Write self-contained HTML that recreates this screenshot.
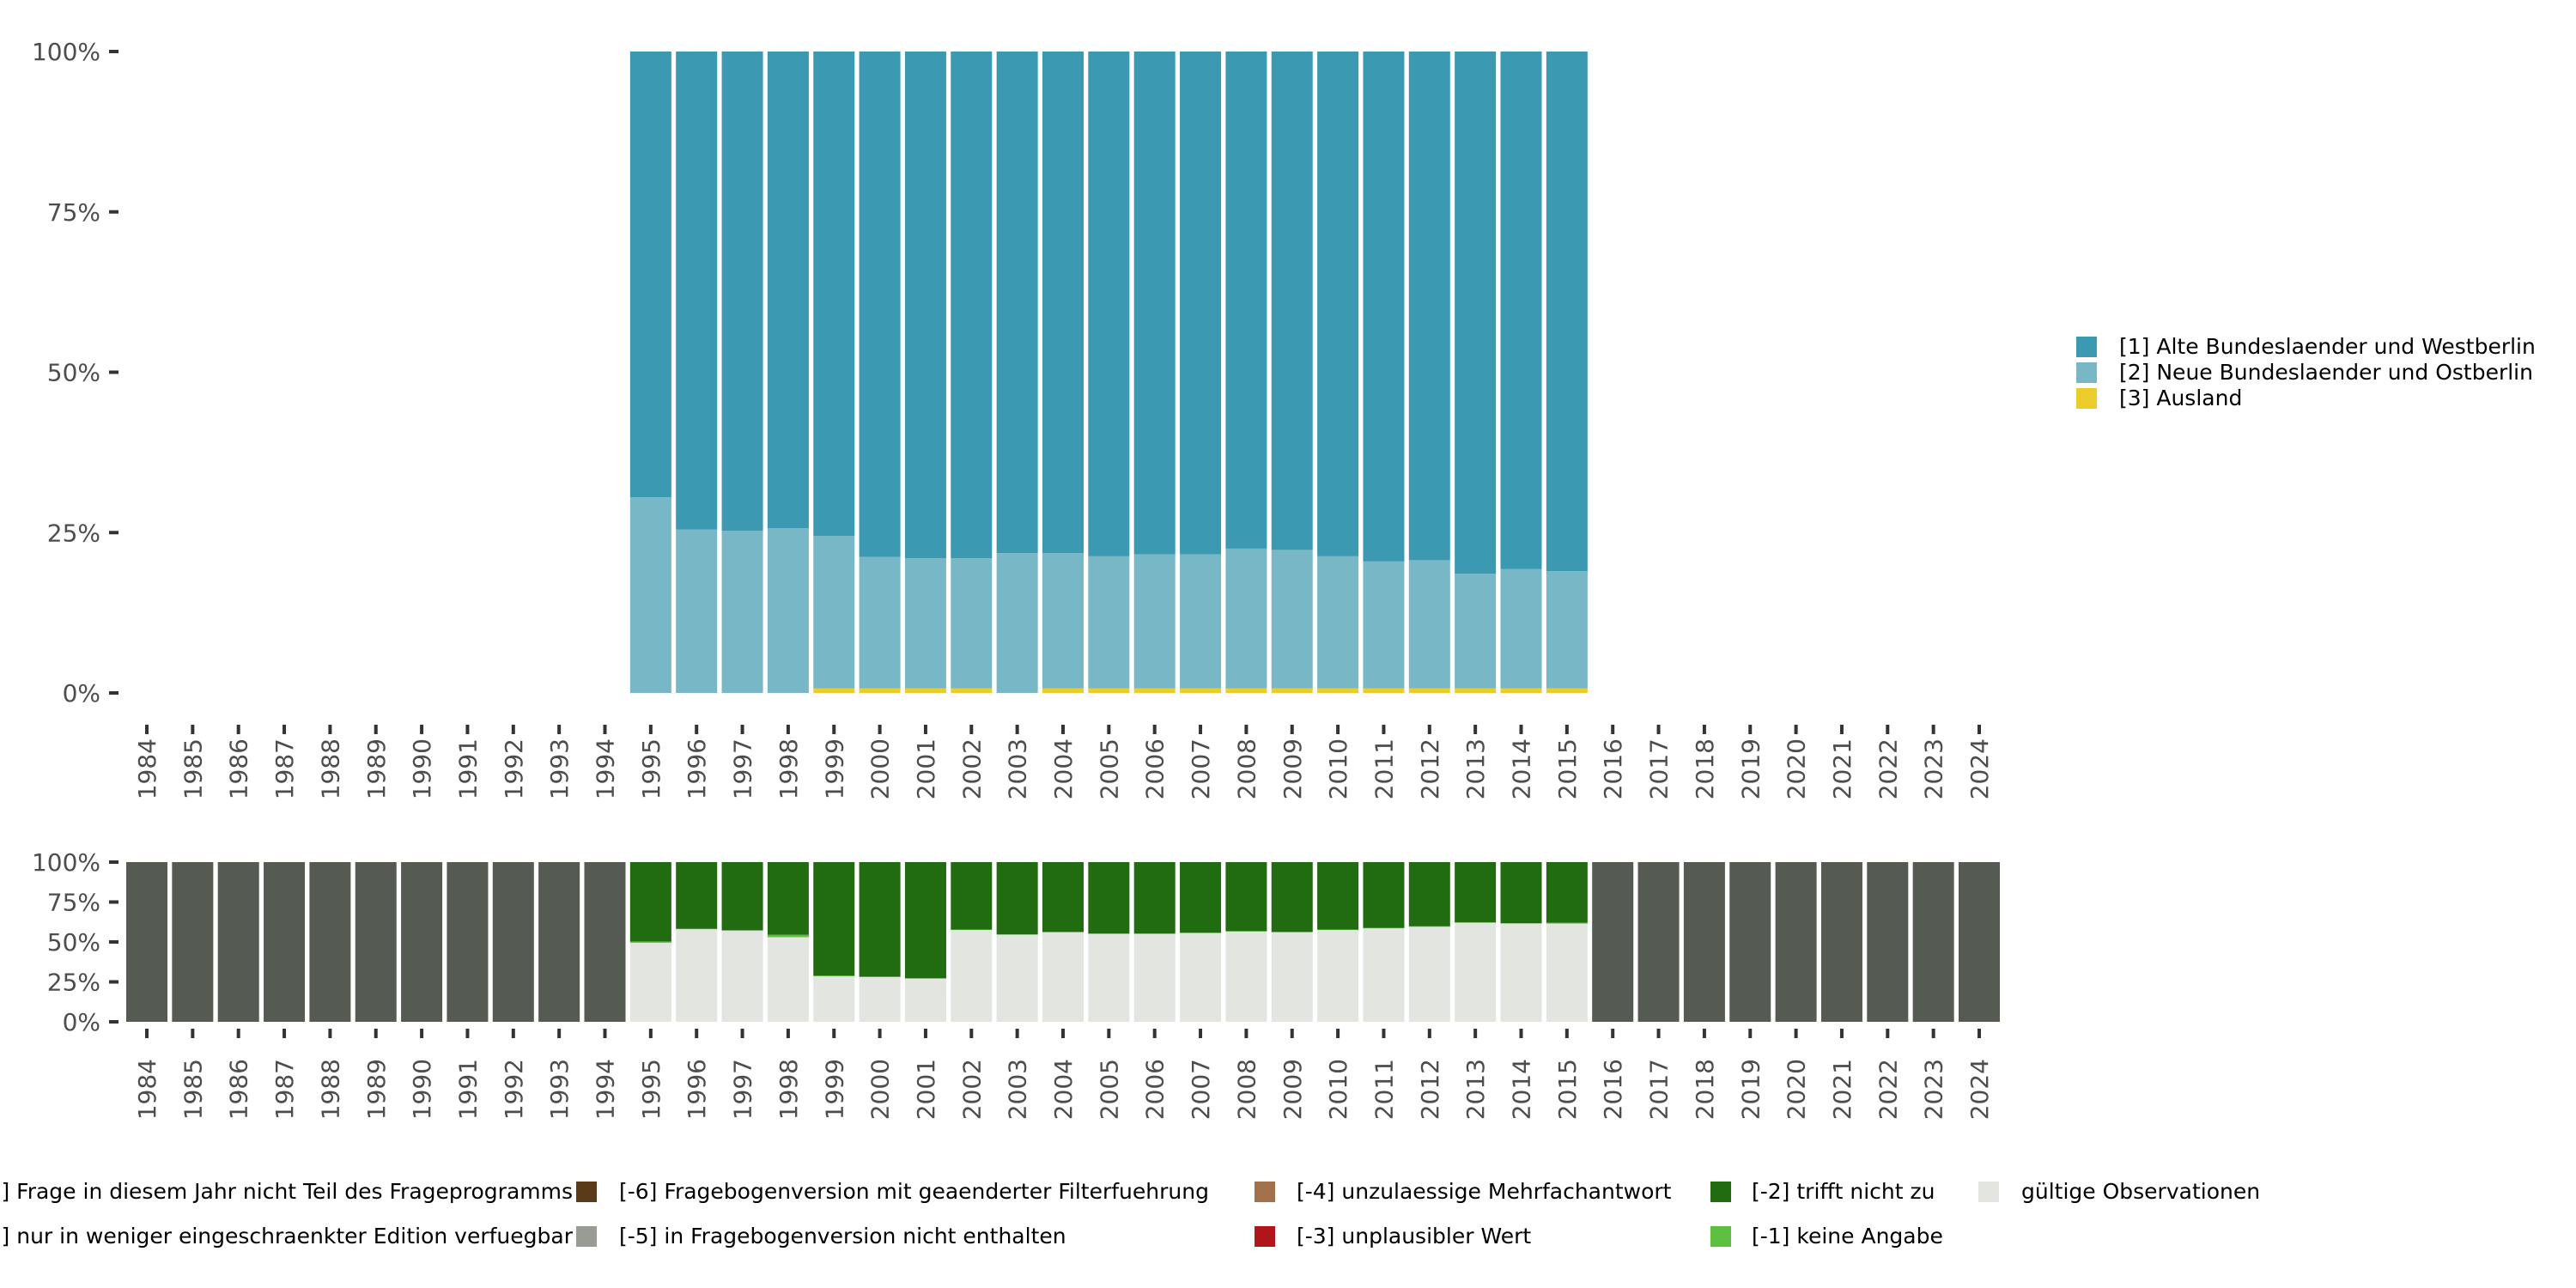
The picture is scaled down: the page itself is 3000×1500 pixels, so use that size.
<!DOCTYPE html>
<html><head><meta charset="utf-8"><style>
html,body{margin:0;padding:0;background:#fff;width:3000px;height:1500px;overflow:hidden}
svg{display:block;font-family:"DejaVu Sans","Liberation Sans",sans-serif}
</style></head><body>
<svg id="chart" width="3000" height="1500" viewBox="0 0 3000 1500" xmlns="http://www.w3.org/2000/svg">
<g id="top"></g>
<g id="bot"></g>
<g id="legR"></g>
<g id="legB"></g>
</svg>
<script>
const years = [];
for (let y = 1984; y <= 2024; y++) years.push(y);
const topYears = [1995,1996,1997,1998,1999,2000,2001,2002,2003,2004,2005,2006,2007,2008,2009,2010,2011,2012,2013,2014,2015];
const auslandPct = [0,0,0,0,0.7,0.7,0.7,0.7,0,0.7,0.7,0.7,0.7,0.7,0.7,0.7,0.7,0.7,0.7,0.7,0.7];
const neuePct = [30.5,25.5,25.3,25.7,23.8,20.5,20.3,20.3,21.8,21.1,20.6,20.9,20.9,21.8,21.6,20.6,19.8,20.0,17.9,18.6,18.3];
const validPct = [49.5,58,57,53,28.5,28,27,57.5,54.5,56,55,55,55.5,56.5,56,57.5,58.5,59.5,62,61.5,61.5];
const keineAngabePct = [0.8,0.3,0.4,1.5,0.4,0.3,0.3,0.3,0.3,0.3,0.3,0.3,0.3,0.3,0.3,0.3,0.3,0.3,0.3,0.3,0.5];
const yTicks = [0,25,50,75,100];
const yTickLabels = ["0%","25%","50%","75%","100%"];

const NS = "http://www.w3.org/2000/svg";
function mk(parent, tag, attrs, text) {
  const e = document.createElementNS(NS, tag);
  for (const k in attrs) e.setAttribute(k, attrs[k]);
  if (text !== undefined) e.textContent = text;
  parent.appendChild(e);
  return e;
}
const x0 = 171, x1 = 2305;
const step = (x1 - x0) / (years.length - 1);
const bw = step * 0.9;
function xc(y) { return x0 + (y - years[0]) * step; }

function axes(g, yTop, yBot, labelY, tickY) {
  const ys = v => yBot - (yBot - yTop) * v / 100;
  yTicks.forEach((t, i) => {
    const l = mk(g, "line", {x1: 127, x2: 138, y1: ys(t), y2: ys(t), stroke: "#333", "stroke-width": 4});
    
    
    const tx = mk(g, "text", {x: 117, y: ys(t) + 10, "text-anchor": "end", "font-size": 28, fill: "#4d4d4d"}, yTickLabels[i]);
    
    
  });
  years.forEach(y => {
    const l = mk(g, "line", {x1: xc(y), x2: xc(y), y1: tickY, y2: tickY + 11, stroke: "#333", "stroke-width": 4});
    
    
    const t = mk(g, "text", {x: 0, y: 0, "text-anchor": "end", "font-size": 28, fill: "#4d4d4d",
      transform: `translate(${xc(y) + 10},${labelY}) rotate(-90)`}, String(y));
    
    
  });
  return ys;
}
function seg(g, x, yA, yB, color, name) {
  if (Math.abs(yB - yA) < 0.01) return;
  const r = mk(g, "rect", {x: x - bw / 2, y: Math.min(yA, yB), width: bw, height: Math.abs(yB - yA), fill: color});
  
  
}

// top panel
const gt = document.getElementById("top");
const ysT = axes(gt, 60, 807, 860, 844);
topYears.forEach((y, i) => {
  const x = xc(y);
  const a = auslandPct[i], n = neuePct[i];
  seg(gt, x, ysT(0), ysT(a), "#ebcc2a", "bar-ausland-" + y);
  seg(gt, x, ysT(a), ysT(a + n), "#78b7c5", "bar-neue-" + y);
  seg(gt, x, ysT(a + n), ysT(100), "#3b9ab2", "bar-alte-" + y);
});

// bottom panel
const gb = document.getElementById("bot");
const ysB = axes(gb, 1004, 1190, 1233, 1198);
years.forEach(y => {
  const x = xc(y);
  const i = topYears.indexOf(y);
  if (i < 0) { seg(gb, x, ysB(0), ysB(100), "#555a53", "bar-not-in-program-" + y); return; }
  const v = validPct[i], k = keineAngabePct[i];
  seg(gb, x, ysB(0), ysB(v), "#e2e5e0", "bar-valid-" + y);
  seg(gb, x, ysB(v), ysB(v + k), "#5ec040", "bar-keine-angabe-" + y);
  seg(gb, x, ysB(v + k), ysB(100), "#216b10", "bar-trifft-nicht-zu-" + y);
});

// right legend
const lr = document.getElementById("legR");
const rItems = [["#3b9ab2","[1] Alte Bundeslaender und Westberlin"],["#78b7c5","[2] Neue Bundeslaender und Ostberlin"],["#ebcc2a","[3] Ausland"]];
rItems.forEach((it, i) => {
  const y = 392 + i * 30;
  const r = mk(lr, "rect", {x: 2418, y: y, width: 24, height: 24, fill: it[0]});
  
  
  const t = mk(lr, "text", {x: 2468, y: y + 20, "font-size": 25, fill: "#000"}, it[1]);
  
  
});

// bottom legend
const lb = document.getElementById("legB");
const bItems = [
  [-1000, 667, "#555a53", "[-8] Frage in diesem Jahr nicht Teil des Frageprogramms", 0],
  [-1000, 667, "#999b95", "[-7] nur in weniger eingeschraenkter Edition verfuegbar", 1],
  [671, 721, "#5b3a1a", "[-6] Fragebogenversion mit geaenderter Filterfuehrung", 0],
  [671, 721, "#999b95", "[-5] in Fragebogenversion nicht enthalten", 1],
  [1461, 1510, "#a0714a", "[-4] unzulaessige Mehrfachantwort", 0],
  [1461, 1510, "#b0151a", "[-3] unplausibler Wert", 1],
  [1992, 2040, "#216b10", "[-2] trifft nicht zu", 0],
  [1992, 2040, "#5ec040", "[-1] keine Angabe", 1],
  [2304, 2354, "#e2e5e0", "gültige Observationen", 0]
];
bItems.forEach(it => {
  const y = it[4] === 0 ? 1376 : 1428;
  if (it[0] > 0) {
    const r = mk(lb, "rect", {x: it[0], y: y, width: 24, height: 24, fill: it[2]});
    
    
    const t = mk(lb, "text", {x: it[1], y: y + 20, "font-size": 25, fill: "#000"}, it[3]);
    
    
  } else {
    const t = mk(lb, "text", {x: it[1], y: y + 20, "text-anchor": "end", "font-size": 25, fill: "#000"}, it[3]);
    
    
  }
});
</script>
</body></html>
